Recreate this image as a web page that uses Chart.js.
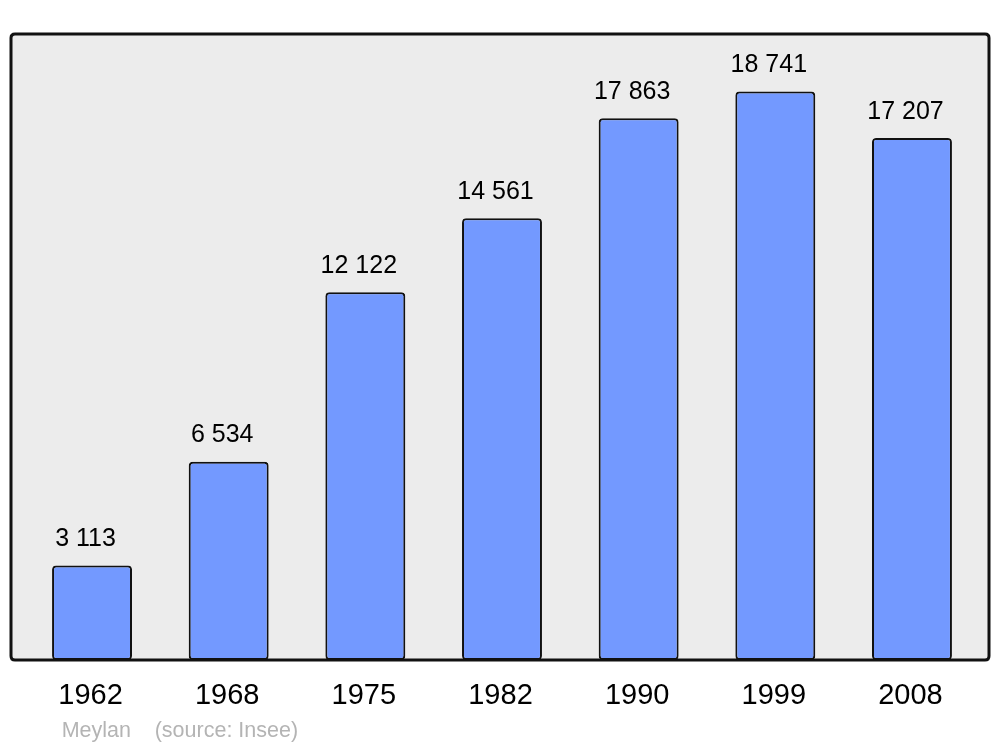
<!DOCTYPE html>
<html>
<head>
<meta charset="utf-8">
<script src="https://cdn.jsdelivr.net/npm/chart.js@4/dist/chart.umd.min.js"></script>
<style>
html,body{margin:0;padding:0;background:#fff;}
canvas{display:block;}
</style>
</head>
<body>
<canvas id="c" width="1000" height="747"></canvas>
<script>
const years = ['1962','1968','1975','1982','1990','1999','2008'];
const population = [3113, 6534, 12122, 14561, 17863, 18741, 17207];
const valueLabels = ['3 113','6 534','12 122','14 561','17 863','18 741','17 207'];
const footerPlace = 'Meylan';
const footerSource = '(source: Insee)';

const FONT = '"Liberation Sans", Arial, sans-serif';

function roundRect(ctx, x, y, w, h, r) {
  ctx.beginPath();
  ctx.moveTo(x + r, y);
  ctx.lineTo(x + w - r, y);
  ctx.quadraticCurveTo(x + w, y, x + w, y + r);
  ctx.lineTo(x + w, y + h - r);
  ctx.quadraticCurveTo(x + w, y + h, x + w - r, y + h);
  ctx.lineTo(x + r, y + h);
  ctx.quadraticCurveTo(x, y + h, x, y + h - r);
  ctx.lineTo(x, y + r);
  ctx.quadraticCurveTo(x, y, x + r, y);
  ctx.closePath();
}

const boxPlugin = {
  id: 'box',
  beforeDatasetsDraw(chart) {
    const {ctx, chartArea: a} = chart;
    ctx.save();
    roundRect(ctx, a.left - 12.7, a.top, (a.right + 8.7) - (a.left - 12.7), a.bottom - a.top, 4);
    ctx.fillStyle = '#ececec';
    ctx.fill();
    ctx.restore();
  },
  afterDatasetsDraw(chart) {
    const {ctx, chartArea: a} = chart;
    ctx.save();
    roundRect(ctx, a.left - 12.7, a.top, (a.right + 8.7) - (a.left - 12.7), a.bottom - a.top, 4);
    ctx.lineWidth = 3;
    ctx.strokeStyle = '#111';
    ctx.stroke();
    // value labels
    const meta = chart.getDatasetMeta(0);
    ctx.fillStyle = '#000';
    ctx.font = '25px ' + FONT;
    ctx.textAlign = 'center';
    ctx.textBaseline = 'alphabetic';
    meta.data.forEach((bar, i) => {
      ctx.fillText(valueLabels[i], bar.x - 6.5, bar.y - 19.5);
    });
    // footer
    ctx.fillStyle = '#b4b4b4';
    ctx.font = '21.5px ' + FONT;
    ctx.textAlign = 'left';
    ctx.fillText(footerPlace, a.left + 38, 737);
    ctx.fillText(footerSource, a.left + 131, 737);
    ctx.restore();
  }
};

new Chart(document.getElementById('c'), {
  type: 'bar',
  data: {
    labels: years,
    datasets: [{
      data: population,
      backgroundColor: '#7399ff',
      borderColor: '#111',
      borderWidth: 2,
      borderRadius: 4,
      borderSkipped: false,
      barPercentage: 0.585,
      categoryPercentage: 1
    }]
  },
  options: {
    responsive: false,
    animation: false,
    devicePixelRatio: 1,
    layout: { padding: { top: 34, left: 23.7, right: 19.7, bottom: 0 } },
    plugins: { legend: { display: false }, tooltip: { enabled: false } },
    scales: {
      x: {
        grid: { display: false, drawTicks: false },
        border: { display: false },
        ticks: { color: '#000', font: { family: FONT, size: 29 }, padding: 18.5, labelOffset: -1.5 },
        afterFit(scale) { scale.height = 87; }
      },
      y: {
        display: false,
        min: 0,
        max: 20640
      }
    }
  },
  plugins: [boxPlugin]
});
</script>
</body>
</html>
